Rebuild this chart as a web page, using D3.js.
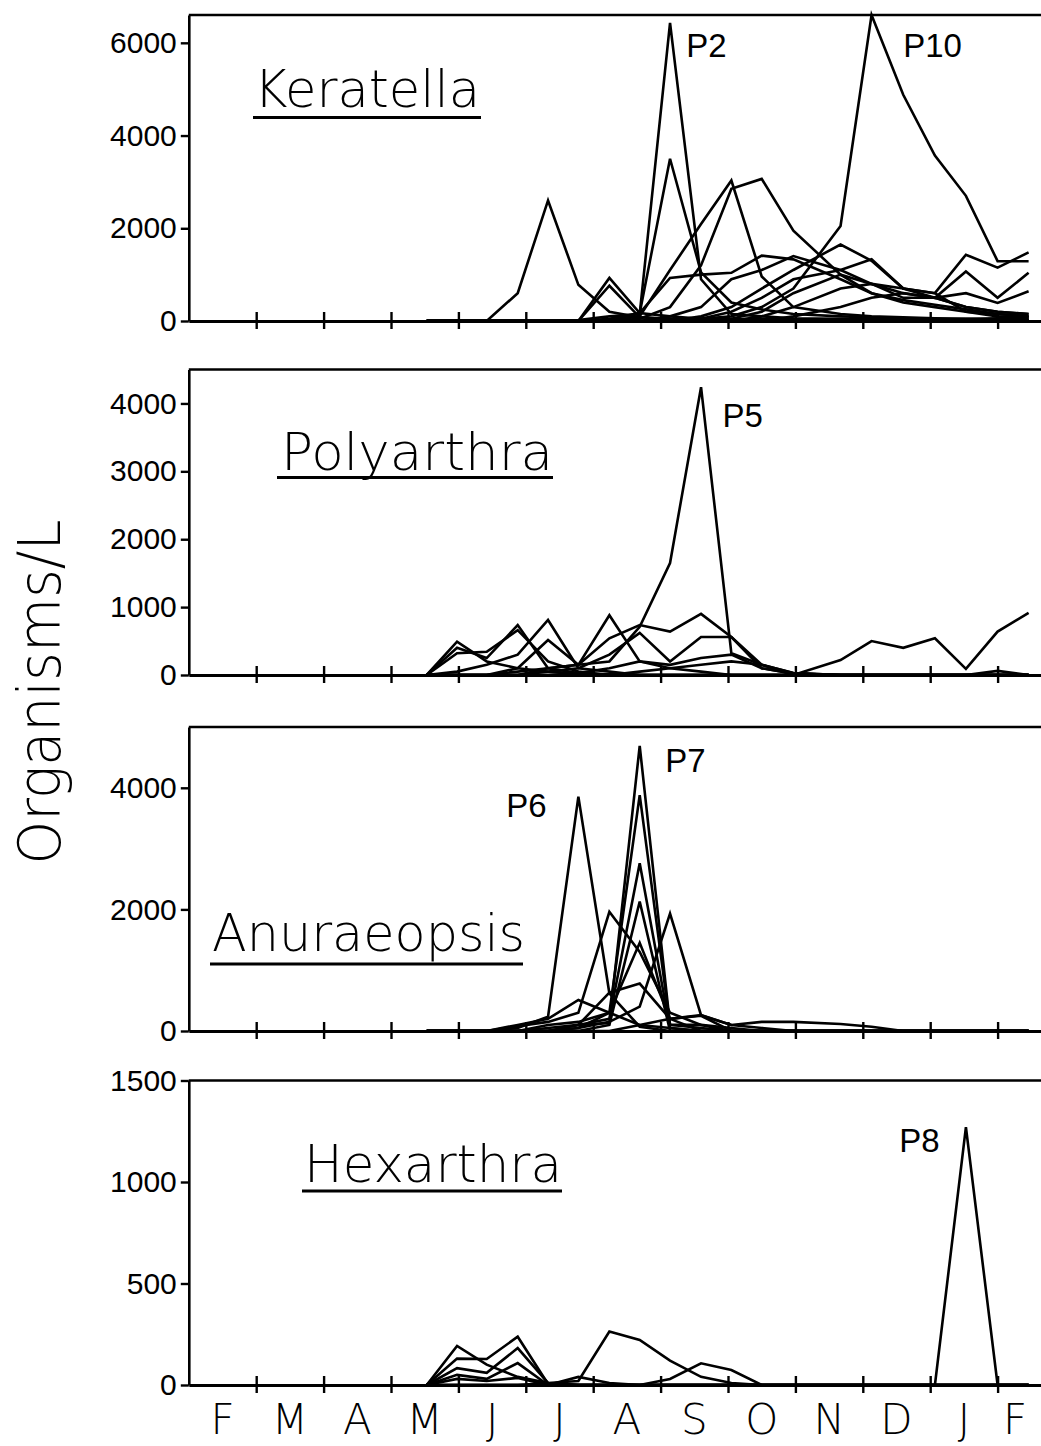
<!DOCTYPE html>
<html>
<head>
<meta charset="utf-8">
<script src="https://cdn.jsdelivr.net/npm/d3@7/dist/d3.min.js"></script>
<style>
  body { margin: 0; background: #fff; }
  svg { display: block; }
</style>
</head>
<body>
<div id="chart"></div>
<script>
// sampling dates, in months after 1 February
const sampleMonths = [3.53, 3.98, 4.42, 4.88, 5.33, 5.78, 6.24, 6.69, 7.14, 7.6,
                      8.05, 8.5, 8.97, 9.67, 10.13, 10.6, 11.07, 11.53, 12.0, 12.46];
const monthLabels = ['F', 'M', 'A', 'M', 'J', 'J', 'A', 'S', 'O', 'N', 'D', 'J', 'F'];

const keratellaTicks = [0, 2000, 4000, 6000];
const polyarthraTicks = [0, 1000, 2000, 3000, 4000];
const anuraeopsisTicks = [0, 2000, 4000];
const hexarthraTicks = [0, 500, 1000, 1500];

// organisms per litre, one row per pond
const keratella = [
  [0, 0, 0, 600, 2600, 780, 200, 80, 50, 50, 40, 40, 30, 30, 20, 20, 20, 20, 20, 20],
  [0, 0, 0, 0, 0, 20, 100, 150, 6430, 900, 150, 100, 60, 50, 40, 30, 30, 40, 60, 80],
  [0, 0, 0, 0, 0, 0, 50, 170, 3500, 1050, 400, 250, 150, 100, 80, 60, 50, 40, 30, 30],
  [0, 0, 0, 0, 0, 0, 0, 100, 1100, 2090, 3030, 960, 300, 150, 100, 80, 60, 50, 40, 30],
  [0, 0, 0, 0, 0, 0, 0, 50, 300, 1200, 2850, 3065, 1950, 1000, 600, 450, 350, 250, 150, 100],
  [0, 0, 0, 0, 0, 0, 0, 170, 930, 1000, 1040, 1410, 1330, 900, 600, 400, 300, 200, 100, 80],
  [0, 0, 0, 0, 0, 0, 0, 0, 100, 300, 900, 1100, 1400, 1100, 800, 500, 500, 300, 200, 150],
  [0, 0, 0, 0, 0, 0, 0, 0, 0, 100, 300, 700, 1100, 1650, 1300, 700, 500, 300, 200, 150],
  [0, 0, 0, 0, 0, 0, 0, 0, 0, 50, 200, 500, 900, 1100, 1330, 700, 600, 200, 150, 100],
  [0, 0, 0, 0, 0, 0, 0, 0, 0, 50, 100, 300, 700, 2050, 6600, 4880, 3570, 2700, 1290, 1290],
  [0, 0, 0, 0, 0, 0, 0, 0, 0, 0, 50, 200, 600, 1000, 800, 700, 600, 1430, 1150, 1480],
  [0, 0, 0, 0, 0, 0, 0, 0, 0, 0, 0, 100, 300, 700, 800, 600, 500, 1070, 500, 1040],
  [0, 0, 0, 0, 0, 0, 0, 0, 0, 0, 0, 0, 100, 300, 500, 600, 500, 600, 390, 640],
  [0, 0, 0, 0, 0, 0, 930, 170, 100, 50, 30, 30, 30, 20, 20, 20, 20, 20, 20, 20],
  [0, 0, 0, 0, 0, 0, 760, 80, 40, 30, 30, 20, 20, 20, 20, 20, 20, 20, 20, 20]
];

const polyarthra = [
  [0, 490, 200, 100, 50, 20, 10, 0, 0, 0, 0, 0, 0, 0, 0, 0, 0, 0, 0, 0],
  [0, 400, 250, 735, 100, 30, 0, 0, 0, 0, 0, 0, 0, 0, 0, 0, 0, 0, 0, 0],
  [0, 320, 343, 660, 200, 50, 0, 0, 0, 0, 0, 0, 0, 0, 0, 0, 0, 0, 0, 0],
  [0, 50, 150, 300, 810, 100, 50, 0, 0, 0, 0, 0, 0, 0, 0, 0, 0, 0, 0, 0],
  [0, 0, 0, 50, 100, 150, 200, 710, 1650, 4240, 320, 150, 30, 0, 0, 0, 0, 0, 0, 0],
  [0, 0, 0, 100, 515, 150, 880, 200, 100, 50, 0, 0, 0, 0, 0, 0, 0, 0, 0, 0],
  [0, 0, 0, 0, 100, 150, 540, 735, 640, 900, 560, 150, 30, 0, 0, 0, 0, 0, 0, 0],
  [0, 0, 0, 0, 50, 100, 300, 620, 200, 560, 560, 100, 20, 0, 0, 0, 0, 0, 0, 0],
  [0, 0, 0, 0, 0, 0, 0, 50, 100, 150, 200, 150, 0, 220, 500, 400, 540, 90, 640, 915],
  [0, 0, 0, 0, 0, 30, 100, 200, 150, 250, 300, 100, 20, 0, 0, 0, 0, 0, 60, 0]
];

const anuraeopsis = [
  [0, 0, 0, 50, 235, 3855, 620, 70, 0, 0, 0, 0, 0, 0, 0, 0, 0, 0, 0, 0],
  [0, 0, 0, 0, 50, 100, 130, 4690, 100, 100, 50, 0, 0, 0, 0, 0, 0, 0, 0, 0],
  [0, 0, 0, 0, 100, 150, 300, 3880, 100, 50, 0, 0, 0, 0, 0, 0, 0, 0, 0, 0],
  [0, 0, 0, 0, 0, 100, 200, 2760, 50, 0, 0, 0, 0, 0, 0, 0, 0, 0, 0, 0],
  [0, 0, 0, 0, 0, 0, 100, 2130, 0, 0, 0, 0, 0, 0, 0, 0, 0, 0, 0, 0],
  [0, 0, 0, 80, 150, 300, 1960, 1300, 300, 100, 0, 0, 0, 0, 0, 0, 0, 0, 0, 0],
  [0, 0, 0, 0, 0, 50, 150, 400, 1930, 260, 100, 50, 0, 0, 0, 0, 0, 0, 0, 0],
  [0, 0, 0, 100, 200, 510, 300, 100, 50, 0, 0, 0, 0, 0, 0, 0, 0, 0, 0, 0],
  [0, 0, 0, 0, 0, 100, 630, 780, 200, 250, 0, 0, 0, 0, 0, 0, 0, 0, 0, 0],
  [0, 0, 0, 0, 0, 0, 0, 100, 200, 260, 100, 150, 150, 115, 70, 0, 0, 0, 0, 0],
  [0, 0, 0, 0, 0, 50, 300, 1450, 200, 0, 0, 0, 0, 0, 0, 0, 0, 0, 0, 0]
];

const hexarthra = [
  [0, 192, 100, 40, 10, 0, 0, 0, 0, 0, 0, 0, 0, 0, 0, 0, 0, 0, 0, 0],
  [0, 130, 128, 238, 5, 0, 0, 0, 0, 0, 0, 0, 0, 0, 0, 0, 0, 0, 0, 0],
  [0, 83, 60, 182, 10, 0, 0, 0, 0, 0, 0, 0, 0, 0, 0, 0, 0, 0, 0, 0],
  [0, 50, 30, 108, 0, 0, 0, 0, 0, 0, 0, 0, 0, 0, 0, 0, 0, 0, 0, 0],
  [0, 30, 20, 35, 0, 40, 10, 0, 0, 0, 0, 0, 0, 0, 0, 0, 0, 0, 0, 0],
  [0, 0, 0, 0, 10, 20, 263, 222, 120, 40, 10, 0, 0, 0, 0, 0, 0, 0, 0, 0],
  [0, 0, 0, 0, 0, 0, 0, 0, 30, 107, 74, 0, 0, 0, 0, 0, 0, 0, 0, 0],
  [0, 0, 0, 0, 0, 0, 0, 0, 0, 0, 0, 0, 0, 0, 0, 0, 0, 1270, 0, 0]
];

// peak labels: pond name, month and value where the text starts
const keratellaNotes = [['P2', 7.38, 5690], ['P10', 10.6, 5690]];
const polyarthraNotes = [['P5', 7.92, 3650]];
const anuraeopsisNotes = [['P6', 4.71, 3520], ['P7', 7.07, 4260]];
const hexarthraNotes = [['P8', 10.54, 1150]];

const width = 1041, height = 1446;
const x0 = 188.8, monthW = 67.4;
const tickFont = "'Liberation Sans', Arial, sans-serif";
const thinFont = "'DejaVu Sans ExtraLight', 'DejaVu Sans', sans-serif";

const panels = [
  { title: 'Keratella', rows: keratella, yMax: 6600, ticks: keratellaTicks, notes: keratellaNotes,
    top: 15, zero: 321, tx: 254, ty: 107, tw: 226, uy: 117.5, u0: 253, u1: 481 },
  { title: 'Polyarthra', rows: polyarthra, yMax: 4500, ticks: polyarthraTicks, notes: polyarthraNotes,
    top: 369.5, zero: 675, tx: 281, ty: 470, tw: 272, uy: 477.5, u0: 277, u1: 553 },
  { title: 'Anuraeopsis', rows: anuraeopsis, yMax: 5000, ticks: anuraeopsisTicks, notes: anuraeopsisNotes,
    top: 727, zero: 1031, tx: 212, ty: 951, tw: 313, uy: 964, u0: 210, u1: 523 },
  { title: 'Hexarthra', rows: hexarthra, yMax: 1500, ticks: hexarthraTicks, notes: hexarthraNotes,
    top: 1080.5, zero: 1385, tx: 304, ty: 1182, tw: 258, uy: 1191, u0: 302, u1: 562 }
];

const svg = d3.select('#chart').append('svg')
  .attr('width', width)
  .attr('height', height)
  .style('background-color', '#ffffff');

const x = d3.scaleLinear().domain([0, 13]).range([x0, x0 + 13 * monthW]);

panels.forEach(p => {
  const y = d3.scaleLinear().domain([0, p.yMax]).range([p.zero, p.top]);
  const g = svg.append('g');

  // frame top
  g.append('line')
    .attr('x1', x0).attr('x2', width)
    .attr('y1', p.top).attr('y2', p.top)
    .attr('stroke', '#000').attr('stroke-width', 2.6);

  // y axis
  const ya = g.append('g')
    .attr('transform', `translate(${x0},0)`)
    .call(d3.axisLeft(y).tickValues(p.ticks).tickFormat(d3.format('d'))
      .tickSize(8).tickSizeOuter(0).tickPadding(4));
  ya.select('.domain').attr('stroke-width', 2.6);
  ya.selectAll('.tick line').attr('stroke-width', 2.4);
  ya.selectAll('text')
    .attr('fill', '#000')
    .style('font-family', tickFont)
    .style('font-size', '30px');

  // x axis, ticks cross the line
  const xa = g.append('g')
    .attr('transform', `translate(0,${p.zero})`)
    .call(d3.axisBottom(x).tickValues(d3.range(1, 13)).tickFormat('').tickSizeOuter(0));
  xa.select('.domain').attr('stroke-width', 2.8);
  xa.selectAll('.tick line').attr('y1', -9).attr('y2', 8).attr('stroke-width', 2.4);

  // series
  const line = d3.line().x((d, i) => x(sampleMonths[i])).y(d => y(d));
  g.append('g')
    .selectAll('path')
    .data(p.rows)
    .join('path')
    .attr('fill', 'none')
    .attr('stroke', '#000')
    .attr('stroke-width', 2.6)
    .attr('stroke-linejoin', 'miter')
    .attr('d', line);

  // title with underline
  g.append('text')
    .attr('x', p.tx).attr('y', p.ty)
    .attr('textLength', p.tw)
    .attr('lengthAdjust', 'spacingAndGlyphs')
    .style('font-family', thinFont)
    .style('font-weight', 200)
    .style('font-size', '52px')
    .text(p.title);
  g.append('line')
    .attr('x1', p.u0).attr('x2', p.u1)
    .attr('y1', p.uy).attr('y2', p.uy)
    .attr('stroke', '#000').attr('stroke-width', 3);

  // peak labels
  g.append('g')
    .selectAll('text')
    .data(p.notes)
    .join('text')
    .attr('x', d => x(d[1]))
    .attr('y', d => y(d[2]))
    .style('font-family', tickFont)
    .style('font-size', '33px')
    .text(d => d[0]);
});

// month labels under the last panel
const last = panels[panels.length - 1];
svg.append('g')
  .selectAll('text')
  .data(monthLabels)
  .join('text')
  .attr('x', (d, i) => Math.min(x(i + 0.5), width - 26))
  .attr('y', last.zero + 49)
  .attr('text-anchor', 'middle')
  .style('font-family', thinFont)
  .style('font-weight', 200)
  .style('font-size', '42px')
  .text(d => d);

// y axis title
svg.append('text')
  .attr('transform', 'translate(60,692) rotate(-90)')
  .attr('text-anchor', 'middle')
  .attr('textLength', 345)
  .attr('lengthAdjust', 'spacingAndGlyphs')
  .style('font-family', thinFont)
  .style('font-weight', 200)
  .style('font-size', '58px')
  .text('Organisms/L');
</script>
</body>
</html>
